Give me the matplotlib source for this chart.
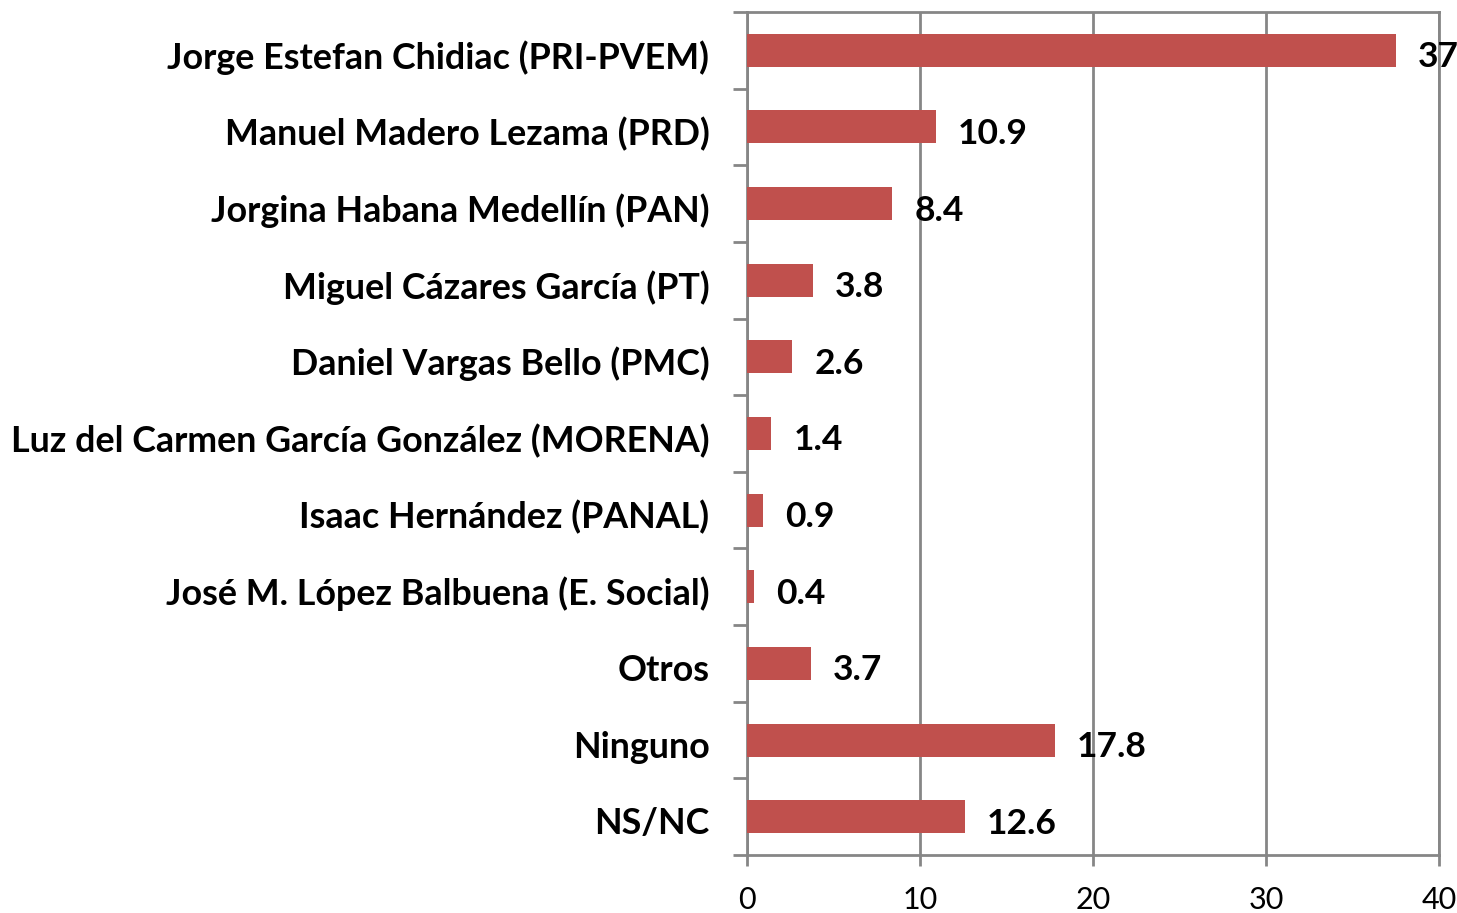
import matplotlib.pyplot as plt
import matplotlib.transforms as mtransforms
import numpy as np

# candidatos y porcentajes (de arriba hacia abajo)
candidatos = ["Jorge Estefan Chidiac (PRI-PVEM)", "Manuel Madero Lezama (PRD)",
              "Jorgina Habana Medellín (PAN)", "Miguel Cázares García (PT)",
              "Daniel Vargas Bello (PMC)", "Luz del Carmen García González (MORENA)",
              "Isaac Hernández (PANAL)", "José M. López Balbuena (E. Social)",
              "Otros", "Ninguno", "NS/NC"]
valores = [37.5, 10.9, 8.4, 3.8, 2.6, 1.4, 0.9, 0.4, 3.7, 17.8, 12.6]
etiquetas = ["37", "10.9", "8.4", "3.8", "2.6", "1.4", "0.9", "0.4", "3.7", "17.8", "12.6"]
xticks = [0, 10, 20, 30, 40]

plt.rcParams['font.family'] = ['Lato', 'DejaVu Sans']
gris = "#868686"

fig = plt.figure(figsize=(14.57, 9.13), dpi=100)
ax = fig.add_axes([747/1457, 1-855/913, (1439-747)/1457, (855-12)/913])

y = np.arange(len(candidatos))
ax.barh(y, valores, height=0.43, color="#c0504d", zorder=3)
for yi, v, t in zip(y, valores, etiquetas):
    ax.annotate(t, (v, yi), xytext=(16, -5), textcoords="offset points",
                va="center", ha="left", fontsize=25.5, fontweight="bold", zorder=4)

ax.set_ylim(len(candidatos)-0.5, -0.5)
ax.set_xlim(0, 40)
ax.set_yticks(y)
ax.set_yticklabels(candidatos, fontsize=25.8, fontweight="bold")
ax.set_yticks(np.arange(-0.5, len(candidatos)), minor=True)
ax.tick_params(axis="y", which="major", length=0, pad=27)
ax.tick_params(axis="y", which="minor", length=10, width=2, color=gris)
ax.set_xticks(xticks)
ax.set_xticklabels([str(t) for t in xticks], fontsize=22)
ax.tick_params(axis="x", length=8, width=2, color=gris, pad=14)

# bajar un poco las etiquetas de categoria
off = mtransforms.ScaledTranslation(0, -3/72, fig.dpi_scale_trans)
for lab in ax.get_yticklabels():
    lab.set_transform(lab.get_transform() + off)

ax.grid(axis="x", color=gris, linewidth=2, zorder=0)
for s in ax.spines.values():
    s.set_color(gris)
    s.set_linewidth(2)

fig.savefig("out.png", dpi=100)
